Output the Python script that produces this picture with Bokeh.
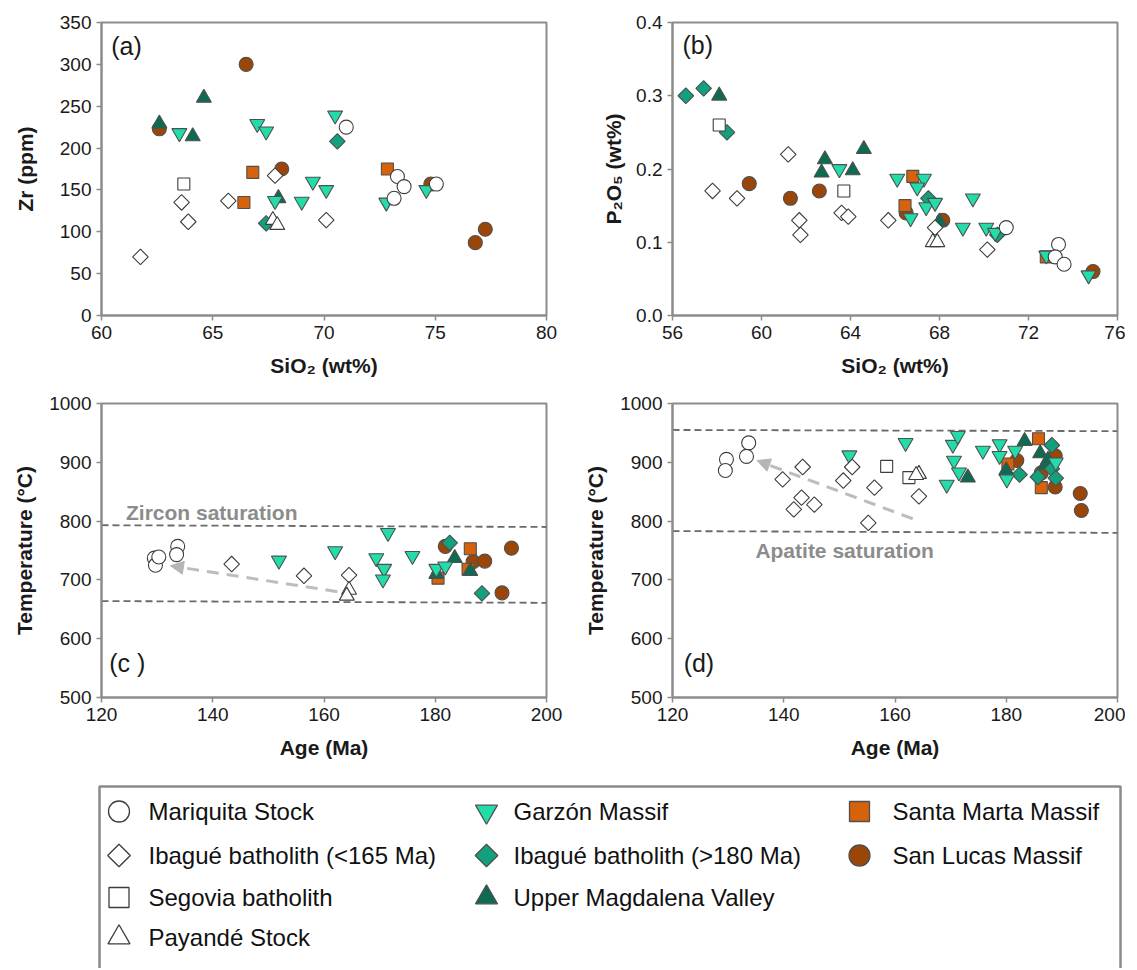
import math
from bokeh.plotting import figure
from bokeh.models import Range1d, FixedTicker, NumeralTickFormatter, Label, Arrow, NormalHead
from bokeh.layouts import column, row
from bokeh.embed import file_html
from bokeh.resources import INLINE
from bokeh.core.properties import value

# ------------------------------------------------------------------ data
GROUPS = ["Mariquita Stock", "Ibagué batholith (<165 Ma)", "Segovia batholith",
          "Payandé Stock", "Garzón Massif", "Ibagué batholith (>180 Ma)",
          "Upper Magdalena Valley", "Santa Marta Massif", "San Lucas Massif"]

# (a) SiO2 (wt%) vs Zr (ppm)
A_MARIQUITA_SIO2 = [71.0, 73.3, 73.6, 73.15, 75.05]
A_MARIQUITA_ZR = [225, 166, 154, 140, 157]
A_IBAGUE_YOUNG_SIO2 = [67.8, 63.6, 65.7, 63.9, 61.75, 70.1]
A_IBAGUE_YOUNG_ZR = [167, 135, 137, 112, 70, 114]
A_SEGOVIA_SIO2 = [63.7]
A_SEGOVIA_ZR = [157]
A_PAYANDE_SIO2 = [67.7, 67.9]
A_PAYANDE_ZR = [114, 108]
A_GARZON_SIO2 = [63.5, 67.0, 67.4, 70.5, 67.8, 69.5, 70.1, 69.0, 72.8, 74.6]
A_GARZON_ZR = [218, 229, 220, 239, 137, 160, 150, 136, 135, 150]
A_IBAGUE_OLD_SIO2 = [70.6, 67.4]
A_IBAGUE_OLD_ZR = [208, 110]
A_UMV_SIO2 = [64.6, 62.6, 64.1, 67.95]
A_UMV_ZR = [260, 229, 214, 140]
A_SANTA_MARTA_SIO2 = [66.8, 66.4, 72.85]
A_SANTA_MARTA_ZR = [171, 135, 175]
A_SAN_LUCAS_SIO2 = [66.5, 62.6, 68.1, 74.8, 77.25, 76.8]
A_SAN_LUCAS_ZR = [300, 223, 175, 157, 103, 87]

# (b) SiO2 (wt%) vs P2O5 (wt%)
B_MARIQUITA_SIO2 = [71.0, 73.35, 73.2, 73.6]
B_MARIQUITA_P2O5 = [0.12, 0.097, 0.08, 0.07]
B_IBAGUE_YOUNG_SIO2 = [57.8, 58.9, 61.2, 61.7, 61.75, 63.6, 63.9, 65.7, 67.8, 70.15]
B_IBAGUE_YOUNG_P2O5 = [0.17, 0.16, 0.22, 0.13, 0.11, 0.14, 0.135, 0.13, 0.12, 0.09]
B_SEGOVIA_SIO2 = [58.1, 63.7]
B_SEGOVIA_P2O5 = [0.26, 0.17]
B_PAYANDE_SIO2 = [67.7, 67.9]
B_PAYANDE_P2O5 = [0.10, 0.10]
B_GARZON_SIO2 = [63.5, 66.1, 67.3, 67.0, 66.7, 67.4, 67.8, 69.5, 69.05, 70.1, 70.5, 72.8, 74.7]
B_GARZON_P2O5 = [0.20, 0.187, 0.187, 0.175, 0.133, 0.148, 0.154, 0.16, 0.12, 0.12, 0.113, 0.082, 0.055]
B_IBAGUE_OLD_SIO2 = [56.6, 57.4, 58.45, 67.5, 70.6]
B_IBAGUE_OLD_P2O5 = [0.30, 0.31, 0.25, 0.16, 0.11]
B_UMV_SIO2 = [58.1, 62.7, 62.85, 64.1, 64.6, 68.0]
B_UMV_P2O5 = [0.30, 0.195, 0.213, 0.198, 0.227, 0.128]
B_SANTA_MARTA_SIO2 = [66.8, 66.45, 72.8]
B_SANTA_MARTA_P2O5 = [0.19, 0.15, 0.08]
B_SAN_LUCAS_SIO2 = [59.45, 61.3, 62.6, 66.5, 68.15, 74.9]
B_SAN_LUCAS_P2O5 = [0.18, 0.16, 0.17, 0.14, 0.13, 0.06]

# (c) Age (Ma) vs zircon saturation temperature (°C)
C_MARIQUITA_AGE = [129.5, 129.7, 130.3, 133.7, 133.5]
C_MARIQUITA_T = [737, 725, 739, 757, 743]
C_IBAGUE_YOUNG_AGE = [143.4, 156.4, 164.5]
C_IBAGUE_YOUNG_T = [727, 707, 708]
C_SEGOVIA_AGE = []
C_SEGOVIA_T = []
C_PAYANDE_AGE = [164.5, 164.1]
C_PAYANDE_T = [683, 673]
C_GARZON_AGE = [151.9, 162.0, 171.5, 169.4, 170.8, 170.6, 175.9, 180.2, 181.8]
C_GARZON_T = [733, 749, 780, 737, 719, 701, 741, 719, 723]
C_IBAGUE_OLD_AGE = [182.6, 188.4]
C_IBAGUE_OLD_T = [763, 677]
C_UMV_AGE = [180.2, 183.5, 186.3]
C_UMV_T = [710, 737, 715]
C_SANTA_MARTA_AGE = [180.5, 186.3, 185.9]
C_SANTA_MARTA_T = [703, 753, 718]
C_SAN_LUCAS_AGE = [181.8, 186.8, 188.9, 193.7, 192.0]
C_SAN_LUCAS_T = [757, 731, 732, 754, 678]

# (d) Age (Ma) vs apatite saturation temperature (°C)
D_MARIQUITA_AGE = [129.7, 129.5, 133.7, 133.3]
D_MARIQUITA_T = [905, 886, 933, 910]
D_IBAGUE_YOUNG_AGE = [139.8, 143.4, 143.2, 141.8, 145.5, 150.7, 152.3, 156.3, 155.2, 164.3]
D_IBAGUE_YOUNG_T = [871, 892, 840, 820, 828, 869, 892, 857, 797, 842]
D_SEGOVIA_AGE = [158.5, 162.5]
D_SEGOVIA_T = [893, 874]
D_PAYANDE_AGE = [164.3, 163.8]
D_PAYANDE_T = [880, 878]
D_GARZON_AGE = [151.8, 161.9, 169.3, 170.4, 171.3, 170.6, 171.5, 175.8, 178.8, 178.8, 180.1, 181.6, 188.9]
D_GARZON_T = [912, 933, 862, 930, 945, 903, 883, 920, 931, 911, 871, 920, 900]
D_IBAGUE_OLD_AGE = [182.4, 188.2, 185.7, 188.2, 188.9]
D_IBAGUE_OLD_T = [879, 929, 875, 889, 873]
D_UMV_AGE = [173.1, 183.3, 180.0, 186.1, 187.0, 187.5]
D_UMV_T = [874, 936, 886, 915, 895, 904]
D_SANTA_MARTA_AGE = [180.3, 185.8, 186.3]
D_SANTA_MARTA_T = [897, 940, 857]
D_SAN_LUCAS_AGE = [181.9, 188.8, 186.3, 188.8, 193.3, 193.5]
D_SAN_LUCAS_T = [903, 911, 882, 858, 847, 818]

# saturation limits (dashed lines) at the ends of the age axis
AGE_ENDS = [120, 200]
ZIRCON_UPPER_T = [793, 790]
ZIRCON_LOWER_T = [664, 661]
APATITE_UPPER_T = [955, 953]
APATITE_LOWER_T = [783, 780]

# trend arrows (start -> end)
C_ARROW_AGE = [162.4, 132.4]
C_ARROW_T = [680, 724]
D_ARROW_AGE = [163.2, 135.2]
D_ARROW_T = [804, 903]

# tick labels
A_XTICKS = [60, 65, 70, 75, 80]
A_YTICKS = [0, 50, 100, 150, 200, 250, 300, 350]
B_XTICKS = [56, 60, 64, 68, 72, 76]
B_YTICKS = [0.0, 0.1, 0.2, 0.3, 0.4]
CD_XTICKS = [120, 140, 160, 180, 200]
CD_YTICKS = [500, 600, 700, 800, 900, 1000]

# ------------------------------------------------------------------ style
FONT = "Liberation Sans"
FRAME_GRAY = "#8c8c8c"
OPEN_EDGE = "#3d3d3d"
FILL_EDGE = "#4f4f4f"

STYLE = {
    "Mariquita Stock": dict(marker="circle", fill="white", edge=OPEN_EDGE, size=14, angle=0.0, lsize=21),
    "Ibagué batholith (<165 Ma)": dict(marker="square", fill="white", edge=OPEN_EDGE, size=11, angle=math.pi / 4, lsize=16),
    "Segovia batholith": dict(marker="square", fill="white", edge=OPEN_EDGE, size=12, angle=0.0, lsize=20),
    "Payandé Stock": dict(marker="triangle", fill="white", edge=OPEN_EDGE, size=15, angle=0.0, lsize=22),
    "Garzón Massif": dict(marker="inverted_triangle", fill="#22dcaa", edge=FILL_EDGE, size=15, angle=0.0, lsize=22),
    "Ibagué batholith (>180 Ma)": dict(marker="square", fill="#13a17d", edge=FILL_EDGE, size=11, angle=math.pi / 4, lsize=16),
    "Upper Magdalena Valley": dict(marker="triangle", fill="#0d6a53", edge=FILL_EDGE, size=15, angle=0.0, lsize=22),
    "Santa Marta Massif": dict(marker="square", fill="#d6620b", edge=FILL_EDGE, size=12, angle=0.0, lsize=20),
    "San Lucas Massif": dict(marker="circle", fill="#9a4608", edge=FILL_EDGE, size=14, angle=0.0, lsize=21),
}
DRAW_ORDER = ["San Lucas Massif", "Santa Marta Massif", "Upper Magdalena Valley",
              "Ibagué batholith (>180 Ma)", "Garzón Massif", "Ibagué batholith (<165 Ma)",
              "Segovia batholith", "Payandé Stock", "Mariquita Stock"]

PANEL_A = dict(zip(GROUPS, [
    (A_MARIQUITA_SIO2, A_MARIQUITA_ZR), (A_IBAGUE_YOUNG_SIO2, A_IBAGUE_YOUNG_ZR),
    (A_SEGOVIA_SIO2, A_SEGOVIA_ZR), (A_PAYANDE_SIO2, A_PAYANDE_ZR),
    (A_GARZON_SIO2, A_GARZON_ZR), (A_IBAGUE_OLD_SIO2, A_IBAGUE_OLD_ZR),
    (A_UMV_SIO2, A_UMV_ZR), (A_SANTA_MARTA_SIO2, A_SANTA_MARTA_ZR),
    (A_SAN_LUCAS_SIO2, A_SAN_LUCAS_ZR)]))
PANEL_B = dict(zip(GROUPS, [
    (B_MARIQUITA_SIO2, B_MARIQUITA_P2O5), (B_IBAGUE_YOUNG_SIO2, B_IBAGUE_YOUNG_P2O5),
    (B_SEGOVIA_SIO2, B_SEGOVIA_P2O5), (B_PAYANDE_SIO2, B_PAYANDE_P2O5),
    (B_GARZON_SIO2, B_GARZON_P2O5), (B_IBAGUE_OLD_SIO2, B_IBAGUE_OLD_P2O5),
    (B_UMV_SIO2, B_UMV_P2O5), (B_SANTA_MARTA_SIO2, B_SANTA_MARTA_P2O5),
    (B_SAN_LUCAS_SIO2, B_SAN_LUCAS_P2O5)]))
PANEL_C = dict(zip(GROUPS, [
    (C_MARIQUITA_AGE, C_MARIQUITA_T), (C_IBAGUE_YOUNG_AGE, C_IBAGUE_YOUNG_T),
    (C_SEGOVIA_AGE, C_SEGOVIA_T), (C_PAYANDE_AGE, C_PAYANDE_T),
    (C_GARZON_AGE, C_GARZON_T), (C_IBAGUE_OLD_AGE, C_IBAGUE_OLD_T),
    (C_UMV_AGE, C_UMV_T), (C_SANTA_MARTA_AGE, C_SANTA_MARTA_T),
    (C_SAN_LUCAS_AGE, C_SAN_LUCAS_T)]))
PANEL_D = dict(zip(GROUPS, [
    (D_MARIQUITA_AGE, D_MARIQUITA_T), (D_IBAGUE_YOUNG_AGE, D_IBAGUE_YOUNG_T),
    (D_SEGOVIA_AGE, D_SEGOVIA_T), (D_PAYANDE_AGE, D_PAYANDE_T),
    (D_GARZON_AGE, D_GARZON_T), (D_IBAGUE_OLD_AGE, D_IBAGUE_OLD_T),
    (D_UMV_AGE, D_UMV_T), (D_SANTA_MARTA_AGE, D_SANTA_MARTA_T),
    (D_SAN_LUCAS_AGE, D_SAN_LUCAS_T)]))


def make_panel(xr, yr, xticks, yticks, xlabel, ylabel, data, left, right, top, fh,
               ylab_standoff, yfmt=None):
    p = figure(frame_width=445, frame_height=fh,
               min_border_left=left, min_border_right=right,
               min_border_top=top, min_border_bottom=70,
               x_range=Range1d(*xr), y_range=Range1d(*yr),
               output_backend="svg", toolbar_location=None, tools="")
    p.xgrid.visible = False
    p.ygrid.visible = False
    p.outline_line_color = FRAME_GRAY
    p.outline_line_width = 2
    p.background_fill_color = "white"
    p.border_fill_color = "white"
    p.xaxis.ticker = FixedTicker(ticks=xticks)
    p.yaxis.ticker = FixedTicker(ticks=yticks)
    if yfmt:
        p.yaxis.formatter = NumeralTickFormatter(format=yfmt)
    p.xaxis.axis_label = xlabel
    p.yaxis.axis_label = ylabel
    for ax in (p.xaxis, p.yaxis):
        ax.axis_line_color = FRAME_GRAY
        ax.axis_line_width = 2
        ax.major_tick_line_color = FRAME_GRAY
        ax.major_tick_line_width = 1.5
        ax.major_tick_out = 5
        ax.major_tick_in = 0
        ax.minor_tick_line_color = None
        ax.major_label_text_font = FONT
        ax.major_label_text_font_size = "19px"
        ax.major_label_text_color = "#1a1a1a"
        ax.major_label_standoff = 5
        ax.axis_label_text_font = FONT
        ax.axis_label_text_font_size = "21px"
        ax.axis_label_text_font_style = "bold"
        ax.axis_label_text_color = "#1a1a1a"
    p.xaxis.axis_label_standoff = 12
    p.yaxis.axis_label_standoff = ylab_standoff
    for g in DRAW_ORDER:
        xs, ys = data[g]
        if not xs:
            continue
        st = STYLE[g]
        p.scatter(xs, ys, marker=st["marker"], size=st["size"], angle=st["angle"],
                  fill_color=st["fill"], line_color=st["edge"], line_width=1.1)
    return p


def panel_label(p, x, y, text):
    p.add_layout(Label(x=x, y=y, text=text, text_font=FONT, text_font_size="25px",
                       text_color="#1a1a1a", text_baseline="middle", text_align="left"))


def sat_lines(p, upper, lower):
    for t in (upper, lower):
        p.line(AGE_ENDS, t, line_color="#6a6a6a", line_width=1.8, line_dash="7 4")


def trend_arrow(p, xs, ys):
    p.add_layout(Arrow(end=NormalHead(size=13, fill_color="#b5b5b5", line_color="#b5b5b5"),
                       x_start=xs[0], y_start=ys[0], x_end=xs[1], y_end=ys[1],
                       line_color="#bdbdbd", line_width=3, line_dash="12 8",
                       level="underlay"))


pa = make_panel((60, 80), (0, 350), A_XTICKS, A_YTICKS, "SiO₂ (wt%)", "Zr (ppm)",
                PANEL_A, 101, 20, 22, 293, 20)
panel_label(pa, 60.44, 322, "(a)")

pb = make_panel((56, 76), (0, 0.4), B_XTICKS, B_YTICKS, "SiO₂ (wt%)", "P₂O₅ (wt%)",
                PANEL_B, 106, 8, 22, 293, 8, yfmt="0.0")
panel_label(pb, 56.45, 0.369, "(b)")

pc = make_panel((120, 200), (500, 1000), CD_XTICKS, CD_YTICKS, "Age (Ma)", "Temperature (°C)",
                PANEL_C, 101, 20, 18, 294, 10)
sat_lines(pc, ZIRCON_UPPER_T, ZIRCON_LOWER_T)
trend_arrow(pc, C_ARROW_AGE, C_ARROW_T)
pc.add_layout(Label(x=124.4, y=814, text="Zircon saturation", text_font=FONT,
                    text_font_size="21px", text_font_style="bold", text_color="#8c8c8c",
                    text_baseline="middle", text_align="left"))
panel_label(pc, 121.4, 559, "(c )")

pd_ = make_panel((120, 200), (500, 1000), CD_XTICKS, CD_YTICKS, "Age (Ma)", "Temperature (°C)",
                 PANEL_D, 106, 8, 18, 294, 10)
sat_lines(pd_, APATITE_UPPER_T, APATITE_LOWER_T)
trend_arrow(pd_, D_ARROW_AGE, D_ARROW_T)
pd_.add_layout(Label(x=134.9, y=750, text="Apatite saturation", text_font=FONT,
                     text_font_size="21px", text_font_style="bold", text_color="#8c8c8c",
                     text_baseline="middle", text_align="left"))
panel_label(pd_, 122.0, 559, "(d)")

# ------------------------------------------------------------------ legend (page-pixel coordinates)
LEG_W, LEG_H = 1125, 201
LEG_X0, LEG_Y0 = 0, 767
leg = figure(width=LEG_W, height=LEG_H,
             x_range=Range1d(LEG_X0, LEG_X0 + LEG_W),
             y_range=Range1d(LEG_Y0 + LEG_H, LEG_Y0),
             min_border=0, output_backend="svg", toolbar_location=None, tools="",
             x_axis_location=None, y_axis_location=None)
leg.outline_line_color = None
leg.xgrid.visible = False
leg.ygrid.visible = False
BOX = dict(left=99, right=1120, top=786, bottom=1000)
leg.quad(left=[BOX["left"]], right=[BOX["right"]], top=[BOX["top"]], bottom=[BOX["bottom"]],
         fill_color=None, line_color="#8a8a8a", line_width=2.5)

COL_MARK_X = [118.5, 486, 859]
COL_TEXT_X = [148, 513, 892]
ROW_Y = [811, 855, 897, 937]
ROWS_PER_COL = [4, 3, 2]
slots = [(c, r) for c, n in enumerate(ROWS_PER_COL) for r in range(n)]
for g, (c, r) in zip(GROUPS, slots):
    st = STYLE[g]
    leg.scatter([COL_MARK_X[c]], [ROW_Y[r]], marker=st["marker"], size=st["lsize"],
                angle=st["angle"], fill_color=st["fill"], line_color=st["edge"], line_width=1.3)
leg.text(x=[COL_TEXT_X[c] for c, r in slots], y=[ROW_Y[r] for c, r in slots], text=GROUPS,
         text_font=value(FONT), text_font_size=value("24px"), text_color="#111111",
         text_baseline="middle", text_align="left")

layout = column(row(pa, pb), row(pc, pd_), leg)
open("out.html", "w").write(file_html(layout, INLINE))
